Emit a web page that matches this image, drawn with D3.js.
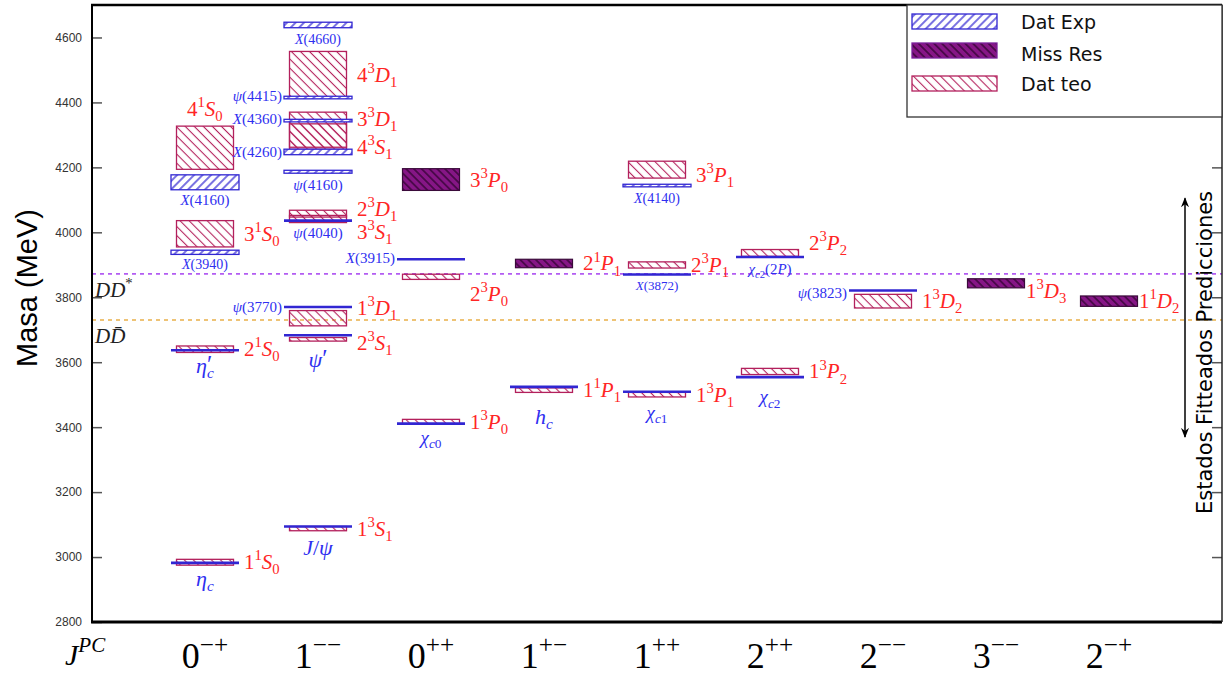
<!DOCTYPE html>
<html>
<head>
<meta charset="utf-8">
<script src="https://cdn.jsdelivr.net/npm/d3@7"></script>
<style>
  body { margin: 0; background: #fff; }
  svg { display: block; }
</style>
</head>
<body>
<svg id="chart"></svg>
<script>
// ---- data -----------------------------------------------------------
const categories = ["0-+", "1--", "0++", "1+-", "1++", "2++", "2--", "3--", "2-+"];

// experimental states: [column, label, low MeV, high MeV] (low == high -> single line)
const expStates = [
  ["0-+", "η_c", 2982, 2982],
  ["0-+", "η_c^′", 3637, 3637],
  ["0-+", "X(3940)", 3932, 3945],
  ["0-+", "X(4160)", 4131, 4177],
  ["1--", "J/ψ", 3094, 3094],
  ["1--", "ψ^′", 3683, 3683],
  ["1--", "ψ(3770)", 3770, 3770],
  ["1--", "ψ(4040)", 4036, 4036],
  ["1--", "ψ(4160)", 4182, 4191],
  ["1--", "X(4260)", 4239, 4256],
  ["1--", "X(4360)", 4340, 4348],
  ["1--", "ψ(4415)", 4411, 4419],
  ["1--", "X(4660)", 4630, 4647],
  ["0++", "χ_{c0}", 3411, 3411],
  ["0++", "X(3915)", 3917, 3917],
  ["1+-", "h_c", 3524, 3524],
  ["1++", "χ_{c1}", 3509, 3509],
  ["1++", "X(3872)", 3870, 3870],
  ["1++", "X(4140)", 4140, 4148],
  ["2++", "χ_{c2}", 3554, 3554],
  ["2++", "χ_{c2}(2P)", 3924, 3924],
  ["2--", "ψ(3823)", 3821, 3821]
];

// theoretical states: [column, label, low MeV, high MeV]
const theoStates = [
  ["0-+", "1^1S_0", 2975, 2993],
  ["0-+", "2^1S_0", 3630, 3650],
  ["0-+", "3^1S_0", 3955, 4036],
  ["0-+", "4^1S_0", 4194, 4327],
  ["1--", "1^3S_1", 3081, 3094],
  ["1--", "2^3S_1", 3665, 3676],
  ["1--", "1^3D_1", 3712, 3759],
  ["1--", "3^3S_1", 4030, 4052],
  ["1--", "2^3D_1", 4047, 4068],
  ["1--", "3^3D_1", 4256, 4370],
  ["1--", "4^3S_1", 4262, 4334],
  ["1--", "4^3D_1", 4414, 4557],
  ["0++", "1^3P_0", 3409, 3424],
  ["0++", "2^3P_0", 3855, 3871],
  ["1+-", "1^1P_1", 3507, 3521],
  ["1++", "1^3P_1", 3493, 3507],
  ["1++", "2^3P_1", 3890, 3909],
  ["1++", "3^3P_1", 4167, 4219],
  ["2++", "1^3P_2", 3562, 3581],
  ["2++", "2^3P_2", 3926, 3947],
  ["2--", "1^3D_2", 3767, 3809]
];

// missing resonances: [column, label, low MeV, high MeV]
const missStates = [
  ["0++", "3^3P_0", 4129, 4196],
  ["1+-", "2^1P_1", 3891, 3917],
  ["3--", "1^3D_3", 3829, 3857],
  ["2-+", "1^1D_2", 3772, 3804]
];

const thresholds = [["DD^*", 3872], ["DD\u0304", 3730]];
const yTicks = [2800, 3000, 3200, 3400, 3600, 3800, 4000, 4200, 4400, 4600];
const legendItems = ["Dat Exp", "Miss Res", "Dat teo"];

// ---- layout / styling --------------------------------------------------
const W = 1225, H = 676;
const expColor = "#3126d2", expText = "#2f2ff0";
const teoColor = "#b3205c", teoText = "#ff2525";
const missFill = "#861686";
const serif = "'Liberation Serif', 'DejaVu Serif', serif";

// blue label placement: [mode, dy, font size]
const expLabelPos = {
  "η_c": ["below", 23, 22], "η_c^′": ["below", 23, 22],
  "X(3940)": ["below", 15, 14], "X(4160)": ["below", 15, 15],
  "J/ψ": ["below", 28, 22], "ψ^′": ["below", 32, 22],
  "ψ(3770)": ["left", 5, 15], "ψ(4040)": ["below", 17, 15],
  "ψ(4160)": ["below", 17, 15], "X(4260)": ["left", 5, 15],
  "X(4360)": ["left", 3, 15], "ψ(4415)": ["left", 3, 15],
  "X(4660)": ["below", 16, 14], "χ_{c0}": ["below", 20, 19],
  "X(3915)": ["left", 4, 15], "h_c": ["below", 37, 22],
  "χ_{c1}": ["below", 27, 19], "X(3872)": ["below", 15, 13],
  "X(4140)": ["below", 16, 14], "χ_{c2}": ["below", 26, 19],
  "χ_{c2}(2P)": ["below", 17, 15], "ψ(3823)": ["left", 8, 15]
};
// red label nudges [dx, dy]
const teoLabelNudge = {
  "4^1S_0": [-57, -39], "2^3S_1": [0, 4], "1^3D_1": [0, -10],
  "3^3S_1": [0, 13], "2^3D_1": [0, -5], "4^3S_1": [0, 11],
  "3^3D_1": [0, -12], "2^3P_0": [0, 17], "3^3P_1": [0, 5],
  "2^3P_2": [0, -10], "2^3P_1": [-5, 0], "1^3D_3": [-9, 8],
  "1^1D_2": [-9, 0]
};

const svg = d3.select("#chart").attr("width", W).attr("height", H);
const x = d3.scalePoint().domain(categories).range([92, 1222]).padding(1);
const y = d3.scaleLinear().domain([2800, 4700]).range([622, 5]);

// ---- math-ish text helper ------------------------------------------------
function parseMath(str) {
  const out = [];
  let i = 0;
  while (i < str.length) {
    const c = str[i];
    if (c === "^" || c === "_") {
      const kind = c === "^" ? "sup" : "sub";
      i++;
      let grp;
      if (str[i] === "{") { const j = str.indexOf("}", i); grp = str.slice(i + 1, j); i = j + 1; }
      else { grp = str[i]; i++; }
      out.push({ kind, s: grp });
    } else {
      let j = i;
      while (j < str.length && str[j] !== "^" && str[j] !== "_") j++;
      out.push({ kind: "n", s: str.slice(i, j) });
      i = j;
    }
  }
  return out;
}

function runs(s) {
  const res = [];
  for (const ch of s) {
    const comb = /[\u0300-\u036f]/.test(ch);
    const it = /[A-Za-zα-ωΑ-Ω]/.test(ch);
    if (res.length && (comb || res[res.length - 1].it === it)) res[res.length - 1].s += ch;
    else res.push({ s: ch, it });
  }
  return res;
}

function drawMath(g, str, px, py, fs, fill, anchor, upright) {
  const t = g.append("text")
    .attr("x", px).attr("y", py)
    .attr("font-family", serif).attr("font-size", fs)
    .attr("fill", fill).attr("text-anchor", anchor || "start");
  let shift = 0, prev = null;
  parseMath(str).forEach(tok => {
    const prime = tok.s === "′";
    let target = tok.kind === "sup" ? -0.42 * fs : tok.kind === "sub" ? 0.24 * fs : 0;
    if (prime) target = -0.02 * fs;
    let width = 0;
    runs(tok.s).forEach((r, k) => {
      const ts = t.append("tspan").text(r.s);
      if (tok.kind !== "n" && !prime) ts.attr("font-size", fs * 0.7);
      if (prime) ts.attr("font-size", fs * 1.1);
      if (r.it && !upright) ts.attr("font-style", "italic");
      if (k === 0) {
        ts.attr("dy", target - shift);
        if (prev && prev.kind !== "n" && tok.kind !== "n" && prev.kind !== tok.kind) ts.attr("dx", -prev.width);
      }
      width += ts.node().getComputedTextLength();
    });
    shift = target;
    prev = { kind: tok.kind, width };
  });
  return t;
}

// ---- patterns -------------------------------------------------------------
const defs = svg.append("defs");
function hatch(id, angle, gap, color, sw, bg) {
  const p = defs.append("pattern").attr("id", id)
    .attr("patternUnits", "userSpaceOnUse")
    .attr("width", gap).attr("height", gap)
    .attr("patternTransform", `rotate(${angle})`);
  if (bg) p.append("rect").attr("width", gap).attr("height", gap).attr("fill", bg);
  p.append("line").attr("x1", gap / 2).attr("x2", gap / 2).attr("y1", 0).attr("y2", gap)
    .attr("stroke", color).attr("stroke-width", sw);
}
hatch("hExp", 45, 6, expColor, 1.3, "#fff");
hatch("hTeo", -45, 6.4, teoColor, 1.1, null);
hatch("hMiss", -45, 5.5, "#220022", 1.1, missFill);

const marker = defs.append("marker").attr("id", "arrow")
  .attr("viewBox", "0 0 10 10").attr("refX", 9).attr("refY", 5)
  .attr("markerWidth", 10).attr("markerHeight", 10)
  .attr("markerUnits", "userSpaceOnUse")
  .attr("orient", "auto-start-reverse");
marker.append("path").attr("d", "M0,1 L10,5 L0,9 L3,5 Z").attr("fill", "#000");

// ---- axes -----------------------------------------------------------------
const yAxis = svg.append("g").attr("transform", "translate(92,0)")
  .call(d3.axisLeft(y).tickValues(yTicks).tickFormat(d3.format("d"))
    .tickSizeInner(-10).tickSizeOuter(0).tickPadding(10));
yAxis.select(".domain").remove();
yAxis.selectAll(".tick line").attr("stroke", "#555").attr("stroke-width", 1.5);
yAxis.selectAll(".tick text").attr("font-family", "'Liberation Sans', Arial, sans-serif")
  .attr("font-size", 12).attr("fill", "#333");

const yAxisR = svg.append("g").attr("transform", "translate(1222,0)")
  .call(d3.axisRight(y).tickValues(yTicks).tickSizeInner(-10).tickSizeOuter(0).tickFormat(""));
yAxisR.select(".domain").remove();
yAxisR.selectAll(".tick line").attr("stroke", "#555").attr("stroke-width", 1.5);

svg.append("text")
  .attr("transform", "translate(37,288) rotate(-90)")
  .attr("text-anchor", "middle")
  .attr("font-family", "'Liberation Sans', Arial, sans-serif")
  .attr("font-size", 29).attr("fill", "#000")
  .text("Masa (MeV)");

// category labels
categories.forEach(c => {
  const s = c[0] + "^{" + c.slice(1).replace(/-/g, "\u2212") + "}";
  drawMath(svg, s, x(c), 668, 36, "#000", "middle", true);
});
drawMath(svg, "J^{PC}", 65, 665, 30, "#000", "start");

// thresholds
const thrColors = ["#b35cf2", "#e9b04a"];
thresholds.forEach((d, i) => {
  svg.append("line").attr("x1", 92).attr("x2", 1222)
    .attr("y1", y(d[1])).attr("y2", y(d[1]))
    .attr("stroke", thrColors[i]).attr("stroke-width", 1.6)
    .attr("stroke-dasharray", "4,4");
  drawMath(svg, d[0], 95, y(d[1]) + 23, 21, "#222", "start");
});

// ---- states ---------------------------------------------------------------
const plot = svg.append("g");
const teoHalf = 28.5, expHalf = 34;

plot.selectAll("rect.teo").data(theoStates).enter().append("rect")
  .attr("class", "teo")
  .attr("x", d => x(d[0]) - teoHalf).attr("width", teoHalf * 2)
  .attr("y", d => y(d[3])).attr("height", d => y(d[2]) - y(d[3]))
  .attr("fill", "url(#hTeo)").attr("stroke", teoColor).attr("stroke-width", 1.3);

plot.selectAll("rect.miss").data(missStates).enter().append("rect")
  .attr("class", "miss")
  .attr("x", d => x(d[0]) - teoHalf).attr("width", teoHalf * 2)
  .attr("y", d => y(d[3])).attr("height", d => y(d[2]) - y(d[3]))
  .attr("fill", "url(#hMiss)").attr("stroke", "#3a0a3a").attr("stroke-width", 1.2);

const expBars = expStates.filter(d => d[3] > d[2]);
const expLines = expStates.filter(d => d[3] === d[2]);

plot.selectAll("rect.exp").data(expBars).enter().append("rect")
  .attr("class", "exp")
  .attr("x", d => x(d[0]) - expHalf).attr("width", expHalf * 2)
  .attr("y", d => y(d[3])).attr("height", d => y(d[2]) - y(d[3]))
  .attr("fill", "url(#hExp)").attr("stroke", expColor).attr("stroke-width", 1.3);

plot.selectAll("line.exp").data(expLines).enter().append("line")
  .attr("class", "exp")
  .attr("x1", d => x(d[0]) - expHalf).attr("x2", d => x(d[0]) + expHalf)
  .attr("y1", d => y(d[2])).attr("y2", d => y(d[2]))
  .attr("stroke", expColor).attr("stroke-width", 2.6);

// red labels
theoStates.concat(missStates).forEach(d => {
  const n = teoLabelNudge[d[1]] || [0, 0];
  const mid = (d[2] + d[3]) / 2;
  drawMath(plot, d[1], x(d[0]) + 39 + n[0], y(mid) + 7 + n[1], 21, teoText, "start");
});

// blue labels
expStates.forEach(d => {
  const p = expLabelPos[d[1]];
  if (p[0] === "below") {
    drawMath(plot, d[1], x(d[0]), y(d[2]) + p[1], p[2], expText, "middle");
  } else {
    drawMath(plot, d[1], x(d[0]) - 36, y((d[2] + d[3]) / 2) + p[1], p[2], expText, "end");
  }
});

// ---- frame ----------------------------------------------------------------
svg.append("line").attr("x1", 92).attr("x2", 92).attr("y1", 5).attr("y2", 622)
  .attr("stroke", "#000").attr("stroke-width", 2);
svg.append("line").attr("x1", 91).attr("x2", 1222).attr("y1", 622).attr("y2", 622)
  .attr("stroke", "#000").attr("stroke-width", 3);
svg.append("line").attr("x1", 91).attr("x2", 1222).attr("y1", 5).attr("y2", 5)
  .attr("stroke", "#000").attr("stroke-width", 2.5);
svg.append("line").attr("x1", 1222).attr("x2", 1222).attr("y1", 5).attr("y2", 622)
  .attr("stroke", "#222").attr("stroke-width", 1.5);

// ---- side arrow -------------------------------------------------------------
svg.append("line").attr("x1", 1185).attr("x2", 1185)
  .attr("y1", y(3370)).attr("y2", y(4105))
  .attr("stroke", "#000").attr("stroke-width", 1.5)
  .attr("marker-start", "url(#arrow)").attr("marker-end", "url(#arrow)");
svg.append("text")
  .attr("transform", `translate(1212,${y(3630)}) rotate(-90)`)
  .attr("text-anchor", "middle")
  .attr("font-family", "'DejaVu Sans', sans-serif")
  .attr("font-size", 21).attr("fill", "#000")
  .text("Estados Fitteados Predicciones");

// ---- legend ---------------------------------------------------------------
const legend = svg.append("g");
legend.append("rect").attr("x", 907).attr("y", 5).attr("width", 315).attr("height", 112)
  .attr("fill", "#fff").attr("stroke", "#333").attr("stroke-width", 1.3);
const swatchFill = ["url(#hExp)", "url(#hMiss)", "url(#hTeo)"];
const swatchStroke = [expColor, "#7a1f9a", teoColor];
const swatchY = [14, 43, 76];
const textY = [29, 61, 91];
legendItems.forEach((name, i) => {
  legend.append("rect").attr("x", 912).attr("y", swatchY[i]).attr("width", 85).attr("height", 15)
    .attr("fill", swatchFill[i]).attr("stroke", swatchStroke[i]).attr("stroke-width", 1.3);
  legend.append("text").attr("x", 1021).attr("y", textY[i])
    .attr("font-family", "'DejaVu Sans', sans-serif").attr("font-size", 19).attr("fill", "#111")
    .text(name);
});
</script>
</body>
</html>
